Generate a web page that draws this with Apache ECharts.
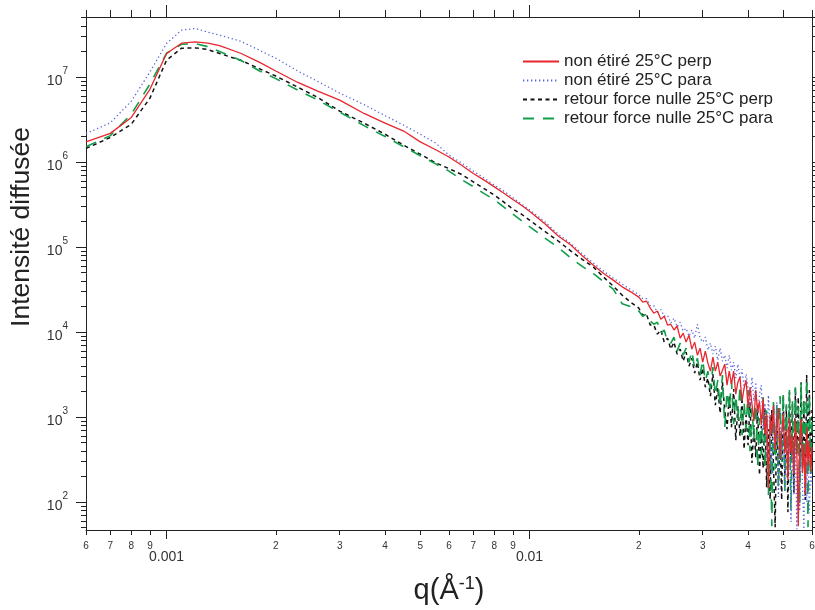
<!DOCTYPE html>
<html><head><meta charset="utf-8">
<script src="https://cdn.jsdelivr.net/npm/echarts@6/dist/echarts.min.js"></script>
<style>html,body{margin:0;padding:0;background:#fff}#c{width:815px;height:610px}</style>
</head><body><div id="c"></div>
<script>
// q values (Å^-1)
const q = [0.0006,0.0007,0.0008,0.0009,0.0010,0.0011,0.0012,0.0013,0.0014,0.0016,0.0018,0.0020,0.0023,0.0026,0.0030,0.0035,0.0040,0.0045,0.0050,0.0055,0.0060,0.0065,0.0070,0.0075,0.0080,0.0085,0.0090,0.0095,0.0100,0.011,0.012,0.013,0.014,0.015,0.016,0.017,0.018,0.019,
0.0200,0.0205,0.0210,0.0215,0.0220,0.0225,0.0230,0.0235,0.0240,0.0245,0.0250,0.0255,0.0260,0.0265,0.0270,0.0275,0.0280,0.0285,0.0290,0.0295,
0.0300,0.0305,0.0310,0.0315,0.0320,0.0325,0.0330,0.0335,0.0340,0.0345,0.0350,0.0355,0.0360,0.0365,0.0370,0.0375,0.0380,0.0385,0.0390,0.0395,
0.0400,0.0405,0.0410,0.0415,0.0420,0.0425,0.0430,0.0435,0.0440,0.0445,0.0450,0.0455,0.0460,0.0465,0.0470,0.0475,0.0480,0.0485,0.0490,0.0495,
0.0500,0.0505,0.0510,0.0515,0.0520,0.0525,0.0530,0.0535,0.0540,0.0545,0.0550,0.0555,0.0560,0.0565,0.0570,0.0575,0.0580,0.0585,0.0590,0.0595,0.0600];

// non étiré 25°C perp
const nonEtirePerp = [1.73e6,2.18e6,3.36e6,7.2e6,1.90e7,2.51e7,2.60e7,2.51e7,2.35e7,1.91e7,1.50e7,1.18e7,8.66e6,6.9e6,5.36e6,3.74e6,2.88e6,2.32e6,1.73e6,1.41e6,1.15e6,9.2e5,7.36e5,6.14e5,5.12e5,4.31e5,3.64e5,3.11e5,2.65e5,1.90e5,1.35e5,1.06e5,7.84e4,6.14e4,4.9e4,4.09e4,3.41e4,2.98e4,
2.58e4,2.25e4,2.32e4,1.92e4,1.67e4,1.77e4,1.42e4,1.54e4,1.21e4,1.24e4,1.06e4,1.18e4,8500,9730,7630,9220,6310,7630,5360,6480,
4440,5980,4320,3480,5080,3480,4440,3040,3570,4200,2380,3480,2440,3480,1860,2580,2960,1540,2190,2720,
1280,2250,1420,897,2080,1140,1540,805,1670,631,1080,146,1060,631,1380,409,763,1280,320,648,
1080,377,722,181,973,377,598,213,947,398,52.2,566,947,219,481,124,763,272,522,231,444];

// non étiré 25°C para
const nonEtirePara = [2.17e6,2.90e6,5.22e6,1.15e7,2.49e7,3.57e7,3.74e7,3.38e7,3.12e7,2.65e7,2.08e7,1.67e7,1.18e7,8.97e6,6.49e6,4.75e6,3.52e6,2.72e6,2.13e6,1.69e6,1.21e6,9.73e5,7.83e5,6.48e5,5.36e5,4.56e5,3.82e5,3.21e5,2.76e5,2.0e5,1.42e5,1.10e5,8.28e4,6.49e4,5.22e4,4.32e4,3.67e4,3.16e4,
2.76e4,2.48e4,2.48e4,2.05e4,2.05e4,1.70e4,1.84e4,1.54e4,1.58e4,1.28e4,1.46e4,1.15e4,1.31e4,1.03e4,1.11e4,8970,1.06e4,8500,1.24e4,8500,
7630,8740,6140,7420,5510,6840,4680,6480,4560,5360,3770,5360,3570,4440,2880,4200,2800,3670,2140,3210,
2190,1380,2960,1540,2580,973,1860,2380,722,1460,338,1810,763,213,1280,432,1500,115,827,304,
1140,138,582,219,973,58.2,432,121,582,48,272,78.4,666,142,48,348,100,536,74.2,244,158];

// retour force nulle 25°C perp
const retourPerp = [1.45e6,1.95e6,2.80e6,5.66e6,1.58e7,2.19e7,2.21e7,2.11e7,1.90e7,1.58e7,1.26e7,1.03e7,7.62e6,5.82e6,3.98e6,2.88e6,2.13e6,1.58e6,1.24e6,9.86e5,8.39e5,7.16e5,5.85e5,4.88e5,4.09e5,3.38e5,2.80e5,2.44e5,2.08e5,1.54e5,1.18e5,8.98e4,7.13e4,5.82e4,4.44e4,3.48e4,2.72e4,2.25e4,
1.92e4,1.58e4,1.63e4,1.21e4,1.21e4,9470,1.06e4,7630,8500,6310,7630,5510,6310,4560,5820,3980,4940,3290,4440,2720,
3770,2250,2880,1770,3210,1380,2190,1110,2580,1180,722,1810,763,2140,536,1350,598,1720,420,1060,
468,1500,288,805,338,1380,208,784,251,1280,150,722,108,1210,265,50.8,1280,158,631,106,
1810,202,1350,76.3,1970,288,1460,128,2190,377,1720,172,2580,265,1540,106,3120,357,2080,208,1210];

// retour force nulle 25°C para
const retourPara = [1.52e6,2.05e6,3.67e6,8.28e6,1.91e7,2.44e7,2.48e7,2.28e7,2.0e7,1.58e7,1.19e7,9.6e6,7.03e6,5.43e6,3.87e6,2.69e6,2.0e6,1.52e6,1.19e6,9.6e5,7.83e5,6.22e5,5.15e5,4.26e5,3.62e5,2.96e5,2.44e5,2.05e5,1.74e5,1.29e5,9.86e4,7.43e4,5.9e4,4.88e4,3.93e4,3.21e4,2.16e4,2.0e4,
1.77e4,1.54e4,1.63e4,1.35e4,1.24e4,1.31e4,9730,1.06e4,7630,7420,8740,5980,7420,5360,6480,4440,5980,3770,4940,3120,
4680,2650,3480,2140,3880,1810,2720,1350,3120,763,2000,1210,2650,827,1810,922,2380,614,1500,722,
2080,398,1280,551,1860,258,973,357,1720,251,1240,118,763,52.2,1670,244,1380,150,1770,296,
1920,128,1420,244,2080,80.5,1540,202,2250,338,1310,97.3,2510,251,1670,146,2880,50.8,1860,208,1060];

const seriesNames = ['non étiré 25°C perp','non étiré 25°C para','retour force nulle 25°C perp','retour force nulle 25°C para'];

const xMinorTicks = [0.0006,0.0007,0.0008,0.0009,0.002,0.003,0.004,0.005,0.006,0.007,0.008,0.009,0.02,0.03,0.04,0.05,0.06];
const xMinorLabels = ['6','7','8','9','2','3','4','5','6','7','8','9','2','3','4','5','6'];
const xMajorTicks = [0.001,0.01];
const xMajorLabels = ['0.001','0.01'];
const yMajorTicks = [1e2,1e3,1e4,1e5,1e6,1e7];
const yMajorExponents = ['2','3','4','5','6','7'];
const yMinorTicks = [50,60,70,80,90,200,300,400,500,600,700,800,900,2000,3000,4000,5000,6000,7000,8000,9000,
  2e4,3e4,4e4,5e4,6e4,7e4,8e4,9e4,2e5,3e5,4e5,5e5,6e5,7e5,8e5,9e5,2e6,3e6,4e6,5e6,6e6,7e6,8e6,9e6,2e7,3e7,4e7,5e7];

const FONT = '"Liberation Sans", Arial, Helvetica, sans-serif';
const AX = '#222';
function nearest(arr, v) {
  let bi = 0, bd = Infinity; const lv = Math.log10(v);
  arr.forEach((a, i) => { const d = Math.abs(Math.log10(a) - lv); if (d < bd) { bd = d; bi = i; } });
  return bi;
}
const XMIN = 0.0006, XMAX = 0.06, YMIN = 47, YMAX = 5.1e7;

function mkX(position, ticks, len, showLine, label, extra) {
  return Object.assign({
    type: 'log', logBase: 10, min: XMIN, max: XMAX, position: position,
    axisLine: {show: showLine, onZero: false, lineStyle: {color: AX, width: 1}},
    axisTick: {show: true, inside: false, length: len, customValues: ticks, lineStyle: {color: AX, width: 1}},
    axisLabel: label ? Object.assign({show: true, customValues: ticks, showMinLabel: true, showMaxLabel: true, hideOverlap: false, color: '#333', fontFamily: FONT}, label) : {show: false},
    minorTick: {show: false}, splitLine: {show: false}, minorSplitLine: {show: false}
  }, extra || {});
}
function mkY(position, ticks, len, showLine, label) {
  return {
    type: 'log', logBase: 10, min: YMIN, max: YMAX, position: position,
    axisLine: {show: showLine, onZero: false, lineStyle: {color: AX, width: 1}},
    axisTick: {show: true, inside: false, length: len, customValues: ticks, lineStyle: {color: AX, width: 1}},
    axisLabel: label ? Object.assign({show: true, customValues: ticks, showMinLabel: true, showMaxLabel: true, hideOverlap: false, color: '#333', fontFamily: FONT}, label) : {show: false},
    minorTick: {show: false}, splitLine: {show: false}, minorSplitLine: {show: false}
  };
}

const toPairs = arr => q.map((x, i) => [x, arr[i]]);

const option = {
  animation: false,
  backgroundColor: '#fff',
  grid: {left: 86, top: 17, right: 3, bottom: 80, containLabel: false, outerBoundsMode: 'none'},
  xAxis: [
    mkX('bottom', xMinorTicks, 5, true, {fontSize: 10, margin: 11, formatter: v => xMinorLabels[nearest(xMinorTicks, v)]}),
    mkX('bottom', xMajorTicks, 9, false, {fontSize: 14, margin: 20, formatter: v => xMajorLabels[nearest(xMajorTicks, v)]}, {
      name: 'q(Å{s|-1})', nameLocation: 'middle', nameGap: 45,
      nameTextStyle: {fontSize: 29, fontFamily: FONT, color: '#222', lineHeight: 32,
        rich: {s: {fontSize: 18, fontFamily: FONT, color: '#222', verticalAlign: 'top', lineHeight: 32}}}
    }),
    mkX('top', xMinorTicks, 7, true, null),
    mkX('top', xMajorTicks, 12, false, null)
  ],
  yAxis: [
    mkY('left', yMajorTicks, 10, true, {margin: 18, formatter: v => '{b|10}{s|' + yMajorExponents[nearest(yMajorTicks, v)] + '}',
      rich: {b: {fontSize: 14, fontFamily: FONT, color: '#333', lineHeight: 22, verticalAlign: 'bottom'},
             s: {fontSize: 10, fontFamily: FONT, color: '#333', lineHeight: 22, verticalAlign: 'top'}}}),
    mkY('left', yMinorTicks, 5, false, null),
    mkY('right', yMajorTicks, 10, true, null),
    mkY('right', yMinorTicks, 5, false, null)
  ],
  legend: {
    orient: 'vertical', left: 517, top: 48, itemWidth: 36, itemHeight: 12, itemGap: 2,
    data: seriesNames,
    itemStyle: {opacity: 0},
    textStyle: {fontSize: 17, color: '#222', fontFamily: FONT}
  },
  graphic: [{
    type: 'text', x: 22, y: 227, rotation: Math.PI / 2,
    style: {text: 'Intensité diffusée', fontSize: 26.5, fontFamily: FONT, fill: '#222', align: 'center', verticalAlign: 'middle'}
  }],
  series: [
    {name: seriesNames[2], type: 'line', symbol: 'none', data: toPairs(retourPerp), xAxisIndex: 0, yAxisIndex: 0,
      lineStyle: {color: '#111', width: 1.5, type: [4, 3.5]}, itemStyle: {color: '#111'}},
    {name: seriesNames[3], type: 'line', symbol: 'none', data: toPairs(retourPara), xAxisIndex: 0, yAxisIndex: 0,
      lineStyle: {color: '#119e4a', width: 1.6, type: [11, 9]}, itemStyle: {color: '#119e4a'}},
    {name: seriesNames[1], type: 'line', symbol: 'none', data: toPairs(nonEtirePara), xAxisIndex: 0, yAxisIndex: 0,
      lineStyle: {color: '#5b68d8', width: 1.3, type: [1.3, 2.7]}, itemStyle: {color: '#5b68d8'}},
    {name: seriesNames[0], type: 'line', symbol: 'none', data: toPairs(nonEtirePerp), xAxisIndex: 0, yAxisIndex: 0,
      lineStyle: {color: '#e8262d', width: 1.3, type: 'solid'}, itemStyle: {color: '#e8262d'}}
  ]
};
const chart = echarts.init(document.getElementById('c'), null, {renderer: 'canvas', width: 815, height: 610});
chart.setOption(option);
</script>
</body></html>
